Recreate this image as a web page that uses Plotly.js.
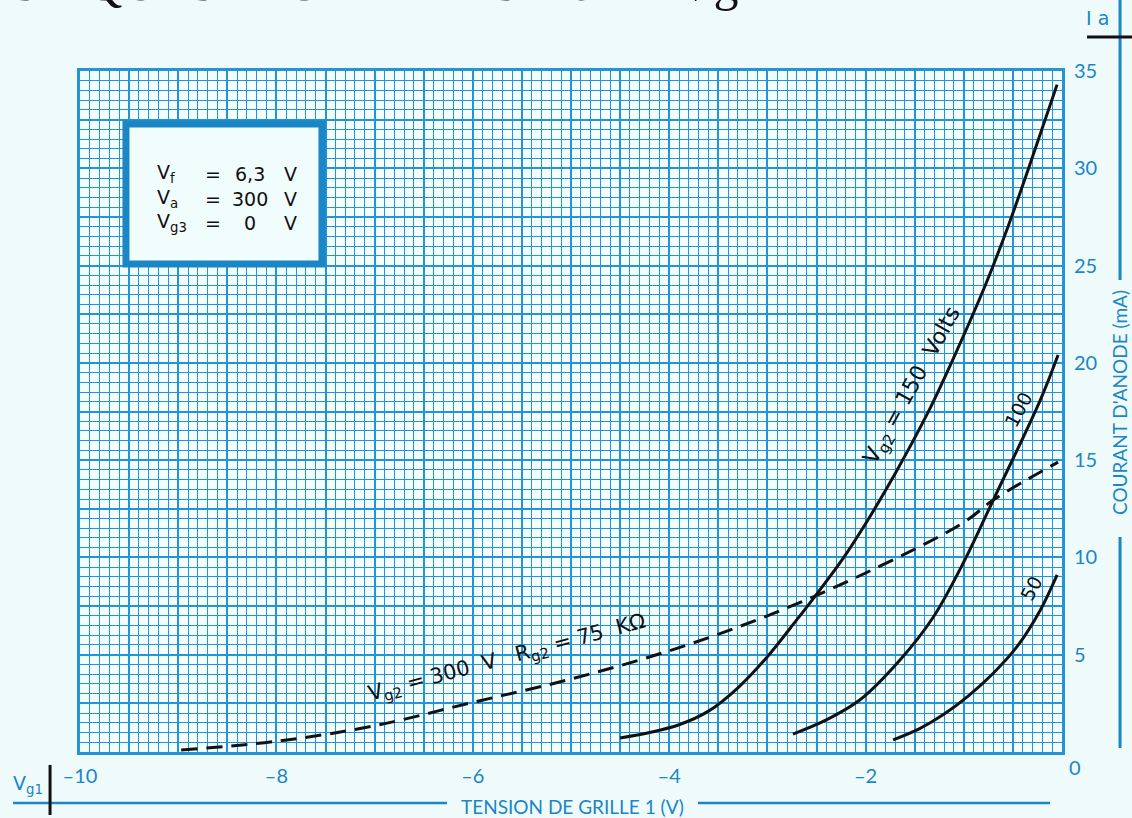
<!DOCTYPE html>
<html><head><meta charset="utf-8">
<script src="https://cdn.plot.ly/plotly-3.0.1.min.js"></script>
<style>html,body{margin:0;padding:0;background:#effbfa;}</style>
</head><body>
<div id="chart" style="width:1132px;height:818px;"></div>
<script>
// Grid voltage Vg1 (V) / anode current Ia (mA) readings
const vg1_150 = [-4.50, -4.20, -3.90, -3.60, -3.30, -3.00, -2.70, -2.49, -2.24, -1.98, -1.70, -1.37, -1.10, -0.78, -0.55, -0.34, -0.05];
const ia_150  = [0.72, 1.00, 1.40, 2.10, 3.30, 4.90, 6.80, 8.17, 9.87, 11.9, 14.3, 17.4, 20.3, 24.0, 27.0, 30.0, 34.3];
const vg1_100 = [-2.74, -2.40, -2.06, -1.65, -1.31, -0.99, -0.70, -0.22, -0.04];
const ia_100  = [0.92, 1.65, 2.67, 4.73, 6.94, 9.87, 12.95, 18.1, 20.4];
const vg1_50  = [-1.72, -1.45, -1.20, -0.95, -0.70, -0.46, -0.22, -0.05];
const ia_50   = [0.62, 1.20, 1.95, 2.90, 4.05, 5.40, 7.30, 9.10];
const vg1_rg  = [-8.97, -8.00, -7.00, -6.00, -5.00, -4.00, -3.00, -2.00, -1.00, -0.70, -0.04];
const ia_rg   = [0.10, 0.55, 1.35, 2.55, 3.75, 5.20, 7.00, 9.20, 11.8, 12.95, 14.9];

const xTickVals = []; const xTickText = [];
for (let k = 0; k <= 20; k++) { const v = -10 + k * 0.5; xTickVals.push(v); xTickText.push((k % 4 === 0 && v !== 0) ? String(v).replace('-', '\u2013') : ''); }
const yTickVals = []; const yTickText = [];
for (let k = 0; k <= 14; k++) { const v = k * 2.5; yTickVals.push(v); yTickText.push((k % 2 === 0 && v !== 0) ? String(v) : ''); }

const blue = '#1a86c6';
const gridBlue = '#2394d6';
const black = '#111111';

const traces = [
  {x: vg1_150, y: ia_150, mode: 'lines', line: {color: black, width: 3, shape: 'spline'}, hoverinfo: 'skip'},
  {x: vg1_100, y: ia_100, mode: 'lines', line: {color: black, width: 3, shape: 'spline'}, hoverinfo: 'skip'},
  {x: vg1_50,  y: ia_50,  mode: 'lines', line: {color: black, width: 3, shape: 'spline'}, hoverinfo: 'skip'},
  {x: vg1_rg,  y: ia_rg,  mode: 'lines', line: {color: black, width: 3, dash: '16px,9px', shape: 'spline'}, hoverinfo: 'skip'},
  {x: [], y: [], xaxis: 'x2', yaxis: 'y2', mode: 'lines', hoverinfo: 'skip'}
];

const tickFont = {family: 'Lato, "Open Sans", sans-serif', size: 20, color: blue};
const letter = 'DejaVu Sans, sans-serif';

const layout = {
  width: 1132, height: 818,
  margin: {l: 80, r: 70, t: 71, b: 66},
  paper_bgcolor: '#effbfa', plot_bgcolor: '#f3fdfd',
  showlegend: false,
  xaxis: {
    range: [-10, 0], tickmode: 'array', tickvals: xTickVals, ticktext: xTickText,
    showgrid: true, gridcolor: gridBlue, gridwidth: 2,
    ticks: '', tickfont: tickFont, ticklabelstandoff: 4,
    showline: true, mirror: true, linecolor: gridBlue, linewidth: 3, zeroline: false, fixedrange: true
  },
  yaxis: {
    range: [0, 35], side: 'right', tickmode: 'array', tickvals: yTickVals, ticktext: yTickText,
    showgrid: true, gridcolor: gridBlue, gridwidth: 2,
    ticks: '', tickfont: tickFont, ticklabelstandoff: 5,
    showline: true, mirror: true, linecolor: gridBlue, linewidth: 3, zeroline: false, fixedrange: true
  },
  xaxis2: {
    overlaying: 'x', range: [-10, 0], tickmode: 'linear', tick0: 0, dtick: 0.1,
    showgrid: true, gridcolor: gridBlue, gridwidth: 1, showticklabels: false, ticks: '', zeroline: false, showline: false, fixedrange: true
  },
  yaxis2: {
    overlaying: 'y', range: [0, 35], tickmode: 'linear', tick0: 0, dtick: 0.5, side: 'right',
    showgrid: true, gridcolor: gridBlue, gridwidth: 1, showticklabels: false, ticks: '', zeroline: false, showline: false, fixedrange: true
  },
  shapes: [
    // inset box
    {type: 'rect', xref: 'paper', yref: 'paper', x0: 0.0468, x1: 0.2464, y0: 0.7166, y1: 0.9222,
     fillcolor: '#f1fcfc', line: {color: blue, width: 7}, layer: 'above'},
    // x title rules
    {type: 'line', xref: 'paper', yref: 'paper', x0: -0.0682, x1: 0.3737, y0: -0.0749, y1: -0.0749, line: {color: blue, width: 2.5}},
    {type: 'line', xref: 'paper', yref: 'paper', x0: 0.6293, x1: 0.9878, y0: -0.0749, y1: -0.0749, line: {color: blue, width: 2.5}},
    // y title rules
    {type: 'line', xref: 'paper', yref: 'paper', x0: 1.0591, x1: 1.0591, y0: 0.693, y1: 1.11, line: {color: blue, width: 3}},
    {type: 'line', xref: 'paper', yref: 'paper', x0: 1.0591, x1: 1.0591, y0: 0.0059, y1: 0.3157, line: {color: blue, width: 3}},
    // black markers
    {type: 'line', xref: 'paper', yref: 'paper', x0: 1.0255, x1: 1.08, y0: 1.0500, y1: 1.0500, line: {color: black, width: 3}},
    {type: 'line', xref: 'paper', yref: 'paper', x0: -0.0305, x1: -0.0305, y0: -0.019, y1: -0.0925, line: {color: black, width: 3}}
  ],
  annotations: [
    // cropped heading (only its lower edge shows)
    {xref: 'paper', yref: 'paper', x: -0.36, y: 1.0, xanchor: 'left', yanchor: 'bottom', yshift: 58, showarrow: false,
     text: 'CARACTERISTIQUES  MOYENNES  I a = f Vg', font: {family: 'Liberation Serif, serif', size: 50, color: black}},
    // inset text
    {xref: 'paper', yref: 'paper', x: 0.0765, y: 0.8135, xanchor: 'left', yanchor: 'middle', showarrow: false, align: 'left',
     text: 'V<sub>f</sub><br>V<sub>a</sub><br>V<sub>g3</sub>', font: {family: letter, size: 19, color: black}},
    {xref: 'paper', yref: 'paper', x: 0.1354, y: 0.8135, xanchor: 'center', yanchor: 'middle', showarrow: false, align: 'center',
     text: '=<br>=<br>=', font: {family: letter, size: 19, color: black}},
    {xref: 'paper', yref: 'paper', x: 0.1731, y: 0.8135, xanchor: 'center', yanchor: 'middle', showarrow: false, align: 'center',
     text: '6,3<br>300<br>0', font: {family: letter, size: 19, color: black}},
    {xref: 'paper', yref: 'paper', x: 0.2139, y: 0.8135, xanchor: 'center', yanchor: 'middle', showarrow: false, align: 'center',
     text: 'V<br>V<br>V', font: {family: letter, size: 19, color: black}},
    // curve labels
    {xref: 'x', yref: 'y', x: -1.52, y: 18.8, textangle: -61, showarrow: false,
     text: 'V<sub>g2</sub> = 150  Volts', font: {family: letter, size: 22, color: black}},
    {xref: 'x', yref: 'y', x: -0.45, y: 17.6, textangle: -62, showarrow: false,
     text: '100', font: {family: letter, size: 19, color: black}},
    {xref: 'x', yref: 'y', x: -0.32, y: 8.4, textangle: -62, showarrow: false,
     text: '50', font: {family: letter, size: 19, color: black}},
    {xref: 'x', yref: 'y', x: -5.65, y: 4.85, textangle: -15, showarrow: false,
     text: 'V<sub>g2</sub> = 300  V   R<sub>g2</sub> = 75  KΩ', font: {family: letter, size: 21, color: black}},
    // axis titles
    {xref: 'paper', yref: 'paper', x: 0.502, y: -0.0800, xanchor: 'center', yanchor: 'middle', showarrow: false,
     text: 'TENSION DE GRILLE 1 (V)', font: {family: 'Lato, sans-serif', size: 19, color: blue}},
    {xref: 'paper', yref: 'paper', x: 1.0591, y: 0.5125, xanchor: 'center', yanchor: 'middle', showarrow: false, textangle: -90,
     text: 'COURANT D\'ANODE (mA)', font: {family: 'Lato, sans-serif', size: 19, color: blue}},
    {xref: 'paper', yref: 'paper', x: 1.036, y: 1.078, xanchor: 'center', yanchor: 'middle', showarrow: false,
     text: 'I a', font: {family: letter, size: 19, color: blue}},
    {xref: 'paper', yref: 'paper', x: -0.053, y: -0.048, xanchor: 'center', yanchor: 'middle', showarrow: false,
     text: 'V<sub>g1</sub>', font: {family: letter, size: 19, color: blue}},
    {xref: 'paper', yref: 'paper', x: 1.0132, y: -0.022, xanchor: 'center', yanchor: 'middle', showarrow: false,
     text: '0', font: tickFont}
  ]
};

Plotly.newPlot('chart', traces, layout, {staticPlot: true, displayModeBar: false});
</script>
</body></html>
